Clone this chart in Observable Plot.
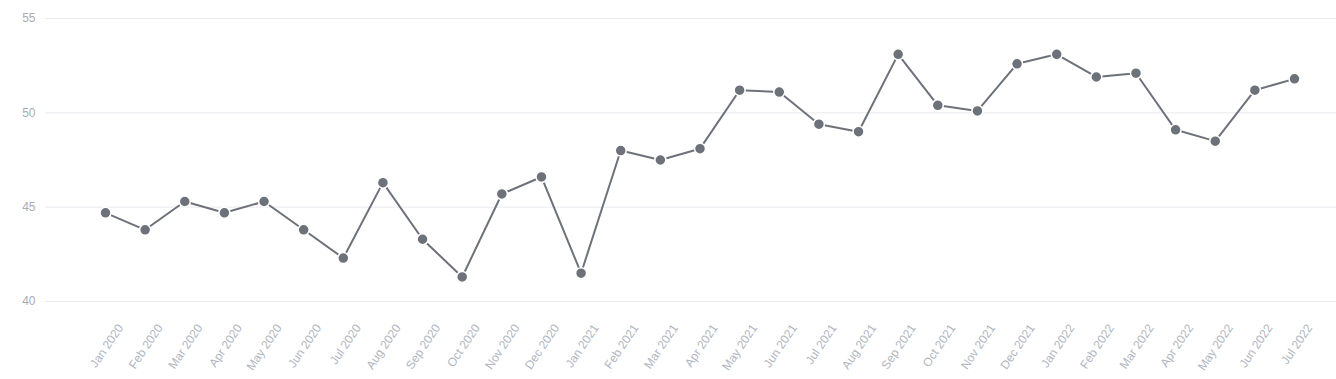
<!DOCTYPE html>
<html>
<head>
<meta charset="utf-8">
<script src="https://cdn.jsdelivr.net/npm/d3@7"></script>
<script src="https://cdn.jsdelivr.net/npm/@observablehq/plot@0.6"></script>
<style>
  html, body { margin: 0; padding: 0; background: #fff; }
  #chart svg { display: block; font-family: "Liberation Sans", Arial, Helvetica, sans-serif; }
</style>
</head>
<body>
<div id="chart"></div>
<script>
const months = ["Jan 2020","Feb 2020","Mar 2020","Apr 2020","May 2020","Jun 2020","Jul 2020","Aug 2020","Sep 2020","Oct 2020","Nov 2020","Dec 2020",
  "Jan 2021","Feb 2021","Mar 2021","Apr 2021","May 2021","Jun 2021","Jul 2021","Aug 2021","Sep 2021","Oct 2021","Nov 2021","Dec 2021",
  "Jan 2022","Feb 2022","Mar 2022","Apr 2022","May 2022","Jun 2022","Jul 2022"];
const values = [44.7, 43.8, 45.3, 44.7, 45.3, 43.8, 42.3, 46.3, 43.3, 41.3, 45.7, 46.6,
  41.5, 48.0, 47.5, 48.1, 51.2, 51.1, 49.4, 49.0, 53.1, 50.4, 50.1, 52.6,
  53.1, 51.9, 52.1, 49.1, 48.5, 51.2, 51.8];
const yTicks = [40, 45, 50, 55];

const data = months.map((m, i) => ({month: m, value: values[i]}));

const chart = Plot.plot({
  width: 1336,
  height: 379,
  marginTop: 18,
  marginBottom: 78,
  marginLeft: 45,
  marginRight: 0,
  style: {fontSize: "12px", fontFamily: "'Liberation Sans', Arial, Helvetica, sans-serif", background: "#fff"},
  x: {type: "point", domain: months, insetLeft: 60, insetRight: 42, padding: 0, round: false, axis: null},
  y: {domain: [40, 55], ticks: yTicks},
  marks: [
    Plot.ruleY(yTicks, {stroke: "#e9e9f0", strokeWidth: 1}),
    Plot.axisY({ticks: yTicks, tickSize: 0, tickPadding: 10, fill: "#a6abb6", fontSize: 12, label: null}),
    Plot.text(months, {x: d => d, frameAnchor: "bottom", dx: 15, dy: 24, rotate: -56, textAnchor: "end", lineAnchor: "middle", fill: "#b0b5c0", fontSize: 12}),
    Plot.line(data, {x: "month", y: "value", stroke: "#6d7179", strokeWidth: 2}),
    Plot.dot(data, {x: "month", y: "value", r: 5.5, fill: "#6d7179", stroke: "#fff", strokeWidth: 1.5})
  ]
});
document.getElementById("chart").appendChild(chart);
</script>
</body>
</html>
